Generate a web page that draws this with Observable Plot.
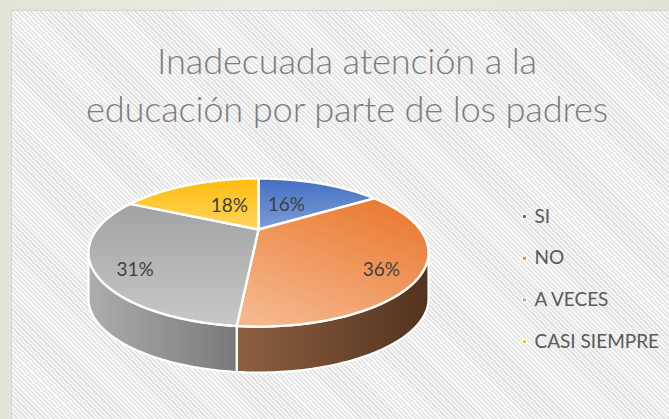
<!DOCTYPE html>
<html>
<head>
<meta charset="utf-8">
<script src="https://cdn.jsdelivr.net/npm/d3@7"></script>
<script src="https://cdn.jsdelivr.net/npm/@observablehq/plot@0.6"></script>
<style>
  html, body { margin: 0; padding: 0; }
  body { width: 669px; height: 419px; position: relative; overflow: hidden;
         background: linear-gradient(90deg, #e4e3d8, #ecebe3 40%, #e2e1d6); font-family: Lato, "Open Sans", sans-serif; }
  #card { position: absolute; left: 11px; top: 10px; width: 670px; height: 420px; box-sizing: border-box;
          border-left: 1px solid #d5d5d5; border-top: 1px solid #d5d5d5;
          background: repeating-linear-gradient(45deg, #f9f9f9 0 1.6px, #e3e3e3 1.6px 3.2px); }
  #title { position: absolute; left: 0; top: 25px; width: 670px; text-align: center;
           color: #7d7d7d; font-size: 36.3px; line-height: 48px; font-weight: 300; letter-spacing: -0.2px; }
  #chart { position: absolute; left: 0; top: 130px; }
</style>
</head>
<body>
<svg width="0" height="0" style="position:absolute">
  <defs>
    <linearGradient id="top0" x1="0" y1="0" x2="0" y2="1"><stop offset="0" stop-color="#4270c2"/><stop offset="1" stop-color="#7f9cd8"/></linearGradient>
    <linearGradient id="top1" x1="0.8" y1="0" x2="0.2" y2="1"><stop offset="0" stop-color="#ea7930"/><stop offset="1" stop-color="#f5b78c"/></linearGradient>
    <linearGradient id="top2" x1="0" y1="0" x2="0" y2="1"><stop offset="0" stop-color="#a2a2a2"/><stop offset="1" stop-color="#c8c8c8"/></linearGradient>
    <linearGradient id="top3" x1="0" y1="0" x2="0" y2="1"><stop offset="0" stop-color="#fdbd0c"/><stop offset="1" stop-color="#ffd55f"/></linearGradient>
    <linearGradient id="side1" x1="0" y1="0" x2="1" y2="0"><stop offset="0" stop-color="#8e6040"/><stop offset="1" stop-color="#523320"/></linearGradient>
    <linearGradient id="side2" x1="0" y1="0" x2="1" y2="0"><stop offset="0" stop-color="#adadad"/><stop offset="1" stop-color="#797979"/></linearGradient>
    <linearGradient id="side0" x1="0" y1="0" x2="1" y2="0"><stop offset="0" stop-color="#2f5597"/><stop offset="1" stop-color="#203864"/></linearGradient>
    <linearGradient id="side3" x1="0" y1="0" x2="1" y2="0"><stop offset="0" stop-color="#bf9000"/><stop offset="1" stop-color="#7f6000"/></linearGradient>
  </defs>
</svg>
<div id="card">
  <div id="title">Inadecuada atención a la<br>educación por parte de los padres</div>
  <div id="chart"></div>
</div>
<script>
// ---- data ----
const categories = ["SI", "NO", "A VECES", "CASI SIEMPRE"];
const values = [16, 36, 31, 18];
const valueLabels = ["16%", "36%", "31%", "18%"];

// ---- styles / layout ----
const legendColors = ["#4472c4", "#ed7d31", "#a5a5a5", "#ffc000"];
const labelRadius = [0.4, 0.8, 0.8, 0.4];
const labelNudgeX = [0, -4, 5, 2];
const labelNudgeY = [-3, 9, 10, -3];

const W = 658, H = 279;
const cx = 246, cy = 88, A = 161.6, B = 66.9, K = 0.311, DEPTH = 46;

function proj(t, f = 1) {
  const u = f * Math.sin(t), v = f * Math.cos(t), w = 1 + K * v;
  return [cx + A * u / w, cy - B * v / w];
}
function arcPts(a0, a1) {
  const n = Math.max(2, Math.ceil((a1 - a0) / (Math.PI / 180)));
  return d3.range(n + 1).map(i => proj(a0 + (a1 - a0) * i / n));
}

const arcs = d3.pie().sort(null).value(d => d)(values);
const thetaR = Math.acos(-K), thetaL = 2 * Math.PI - thetaR;

const sideMarks = [];
const topMarks = [];
arcs.forEach((a, i) => {
  const s0 = Math.max(a.startAngle, thetaR), s1 = Math.min(a.endAngle, thetaL);
  if (s1 > s0) {
    const topArc = arcPts(s0, s1);
    const bottomArc = topArc.map(([x, y]) => [x, y + DEPTH]).reverse();
    const pts = topArc.concat(bottomArc);
    sideMarks.push(Plot.line(pts, {x: d => d[0], y: d => d[1], fill: `url(#side${i})`,
      stroke: "#ffffff", strokeWidth: 2.2, curve: "linear-closed"}));
  }
  const pts = [proj(0, 0)].concat(arcPts(a.startAngle, a.endAngle));
  topMarks.push(Plot.line(pts, {x: d => d[0], y: d => d[1], fill: `url(#top${i})`,
    stroke: "#ffffff", strokeWidth: 2.4, curve: "linear-closed"}));
});

const labelRows = arcs.map((a, i) => {
  const mid = (a.startAngle + a.endAngle) / 2;
  const [x, y] = proj(mid, labelRadius[i]);
  return {x: x + labelNudgeX[i], y: y + labelNudgeY[i], text: valueLabels[i]};
});

const legendRows = categories.map((c, i) => ({name: c, color: legendColors[i], x: 512, y: 75 + i * 41.7}));

const chart = Plot.plot({
  width: W, height: H, margin: 0,
  x: {domain: [0, W], range: [0, W], axis: null},
  y: {domain: [0, H], range: [0, H], axis: null},
  color: {type: "identity"},
  style: {background: "transparent", fontFamily: "Lato, 'Open Sans', sans-serif", overflow: "visible"},
  marks: [
    ...sideMarks,
    ...topMarks,
    Plot.text(labelRows, {x: "x", y: "y", text: "text", fontSize: 19, fill: "#404040"}),
    Plot.dot(legendRows, {x: "x", y: "y", symbol: "square", r: 2.3, fill: "color", stroke: "#ffffff", strokeWidth: 1.2}),
    Plot.text(legendRows, {x: d => d.x + 10, y: "y", text: "name", textAnchor: "start", fontSize: 19, fill: "#595959"})
  ]
});
document.getElementById("chart").appendChild(chart);
</script>
</body>
</html>
